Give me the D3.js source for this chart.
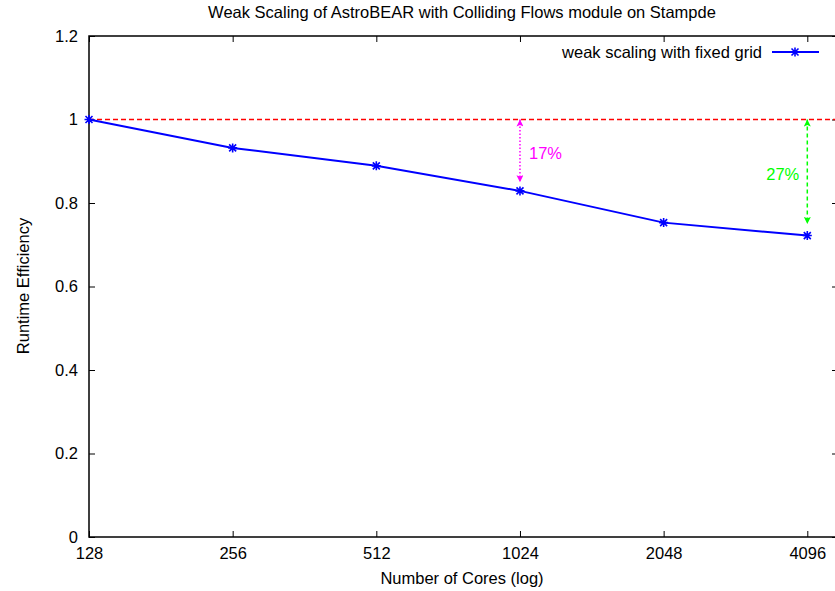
<!DOCTYPE html>
<html>
<head>
<meta charset="utf-8">
<script src="https://cdn.jsdelivr.net/npm/d3@7"></script>
<style>
  body { margin: 0; background: #fff; }
  svg { display: block; overflow: hidden; }
  text { font-family: "Liberation Sans", Arial, Helvetica, sans-serif; fill: #000; }
</style>
</head>
<body>
<div id="chart"></div>
<script>
'use strict';

// data
const cores = [128, 256, 512, 1024, 2048, 4096];
const efficiency = [1.0, 0.932, 0.889, 0.829, 0.753, 0.722];
const yTicks = [0, 0.2, 0.4, 0.6, 0.8, 1, 1.2];
const seriesName = "weak scaling with fixed grid";

// annotation arrows: [x, yFrom, yTo]
const arrowX = [1024, 4096];
const arrowFrom = [1, 1];
const arrowTo = [0.85, 0.75];
const arrowLabels = ["17%", "27%"];
const arrowLabelY = [0.905, 0.855];
const arrowColors = ["#ff00ff", "#00ff00"];

const W = 835, H = 591;
const FS = '16.5px';
const margin = { top: 36, left: 89 },
  width = 749,
  height = 501;

const svg = d3.select('#chart')
  .append('svg')
  .attr('width', W)
  .attr('height', H);

const x = d3.scaleLog().base(2)
  .domain([128, 4750])
  .range([0, width]);

const y = d3.scaleLinear()
  .domain([0, 1.2])
  .range([height, 0]);

const g = svg.append('g')
  .attr('transform', 'translate(' + margin.left + ',' + margin.top + ')');

// title
svg.append('text')
  .attr('x', 462)
  .attr('y', 18)
  .attr('text-anchor', 'middle')
  .style('font-size', FS)
  .text('Weak Scaling of AstroBEAR with Colliding Flows module on Stampde');

// axes (ticks pointing inwards, mirrored)
const tickLen = 6;
const xAxis = d3.axisBottom(x).tickValues(cores).tickFormat(d3.format('d'))
  .tickSize(-tickLen).tickPadding(10);
const xAxisTop = d3.axisTop(x).tickValues(cores).tickFormat('')
  .tickSize(-tickLen);
const yAxis = d3.axisLeft(y).tickValues(yTicks).tickFormat(d3.format('~g'))
  .tickSize(-tickLen).tickPadding(11);
const yAxisRight = d3.axisRight(y).tickValues(yTicks).tickFormat('')
  .tickSize(-tickLen);

const styleAxis = sel => {
  sel.select('.domain').remove();
  sel.selectAll('line').attr('stroke', '#000').attr('stroke-width', 1);
  sel.selectAll('text').style('font-size', FS).attr('fill', '#000');
};

g.append('g').attr('transform', 'translate(0,' + height + ')').call(xAxis).call(styleAxis);
g.append('g').call(xAxisTop).call(styleAxis);
g.append('g').call(yAxis).call(styleAxis);
g.append('g').attr('transform', 'translate(' + width + ',0)').call(yAxisRight).call(styleAxis);

// frame
g.append('rect')
  .attr('width', width)
  .attr('height', height)
  .attr('fill', 'none')
  .attr('stroke', '#000')
  .attr('stroke-width', 1.5);

// axis labels
svg.append('text')
  .attr('x', 462)
  .attr('y', 584)
  .attr('text-anchor', 'middle')
  .style('font-size', FS)
  .text('Number of Cores (log)');

svg.append('text')
  .attr('transform', 'translate(29,286) rotate(-90)')
  .attr('text-anchor', 'middle')
  .style('font-size', FS)
  .text('Runtime Efficiency');

// reference line at 1
g.append('line')
  .attr('x1', 0)
  .attr('x2', width)
  .attr('y1', y(1))
  .attr('y2', y(1))
  .style('stroke', '#ff0000')
  .attr('stroke-width', 1.5)
  .attr('stroke-dasharray', '5,3');

// arrow heads
const defs = svg.append('defs');
arrowColors.forEach((c, i) => {
  defs.append('marker')
    .attr('id', 'head' + i)
    .attr('viewBox', '0 -5 10 10')
    .attr('refX', 10)
    .attr('refY', 0)
    .attr('markerWidth', 11)
    .attr('markerHeight', 7)
    .attr('markerUnits', 'userSpaceOnUse')
    .attr('orient', 'auto-start-reverse')
    .append('path')
    .attr('d', 'M0,-5L10,0L0,5L2,0Z')
    .attr('fill', c);
});

const arrows = arrowX.map((d, i) => ({
  x: d, y0: arrowFrom[i], y1: arrowTo[i], label: arrowLabels[i], ly: arrowLabelY[i], color: arrowColors[i]
}));

g.selectAll('.ann-arrow')
  .data(arrows)
  .enter()
  .append('line')
  .attr('class', 'ann-arrow')
  .attr('x1', d => x(d.x))
  .attr('x2', d => x(d.x))
  .attr('y1', d => y(d.y0))
  .attr('y2', d => y(d.y1))
  .attr('stroke', d => d.color)
  .attr('stroke-width', 1.5)
  .attr('stroke-dasharray', (d, i) => i === 0 ? '1.5,2' : '4,3')
  .attr('marker-start', (d, i) => 'url(#head' + i + ')')
  .attr('marker-end', (d, i) => 'url(#head' + i + ')');

g.selectAll('.ann-label')
  .data(arrows)
  .enter()
  .append('text')
  .attr('class', 'ann-label')
  .attr('x', (d, i) => x(d.x) + (i === 0 ? 9 : -8))
  .attr('y', d => y(d.ly))
  .attr('text-anchor', (d, i) => i === 0 ? 'start' : 'end')
  .style('font-size', FS)
  .style('fill', d => d.color)
  .text(d => d.label);

// data line
const points = cores.map((c, i) => ({ x: c, y: efficiency[i] }));

const line = d3.line()
  .x(d => x(d.x))
  .y(d => y(d.y));

g.append('path')
  .datum(points)
  .attr('d', line)
  .attr('fill', 'none')
  .attr('stroke', '#0000ff')
  .attr('stroke-width', 2);

const star = 'M-4.5,0H4.5M0,-4.5V4.5M-3.5,-3.5L3.5,3.5M-3.5,3.5L3.5,-3.5';

g.selectAll('.pt')
  .data(points)
  .enter()
  .append('path')
  .attr('class', 'pt')
  .attr('transform', d => 'translate(' + x(d.x) + ',' + y(d.y) + ')')
  .attr('d', star)
  .attr('stroke', '#0000ff')
  .attr('stroke-width', 1.6);

// legend
const legend = svg.append('g').attr('transform', 'translate(0,52)');
legend.append('text')
  .attr('x', 762)
  .attr('y', 5.5)
  .attr('text-anchor', 'end')
  .style('font-size', FS)
  .text(seriesName);
legend.append('line')
  .attr('x1', 772)
  .attr('x2', 819)
  .attr('stroke', '#0000ff')
  .attr('stroke-width', 2);
legend.append('path')
  .attr('transform', 'translate(795,0)')
  .attr('d', star)
  .attr('stroke', '#0000ff')
  .attr('stroke-width', 1.6);
</script>
</body>
</html>
